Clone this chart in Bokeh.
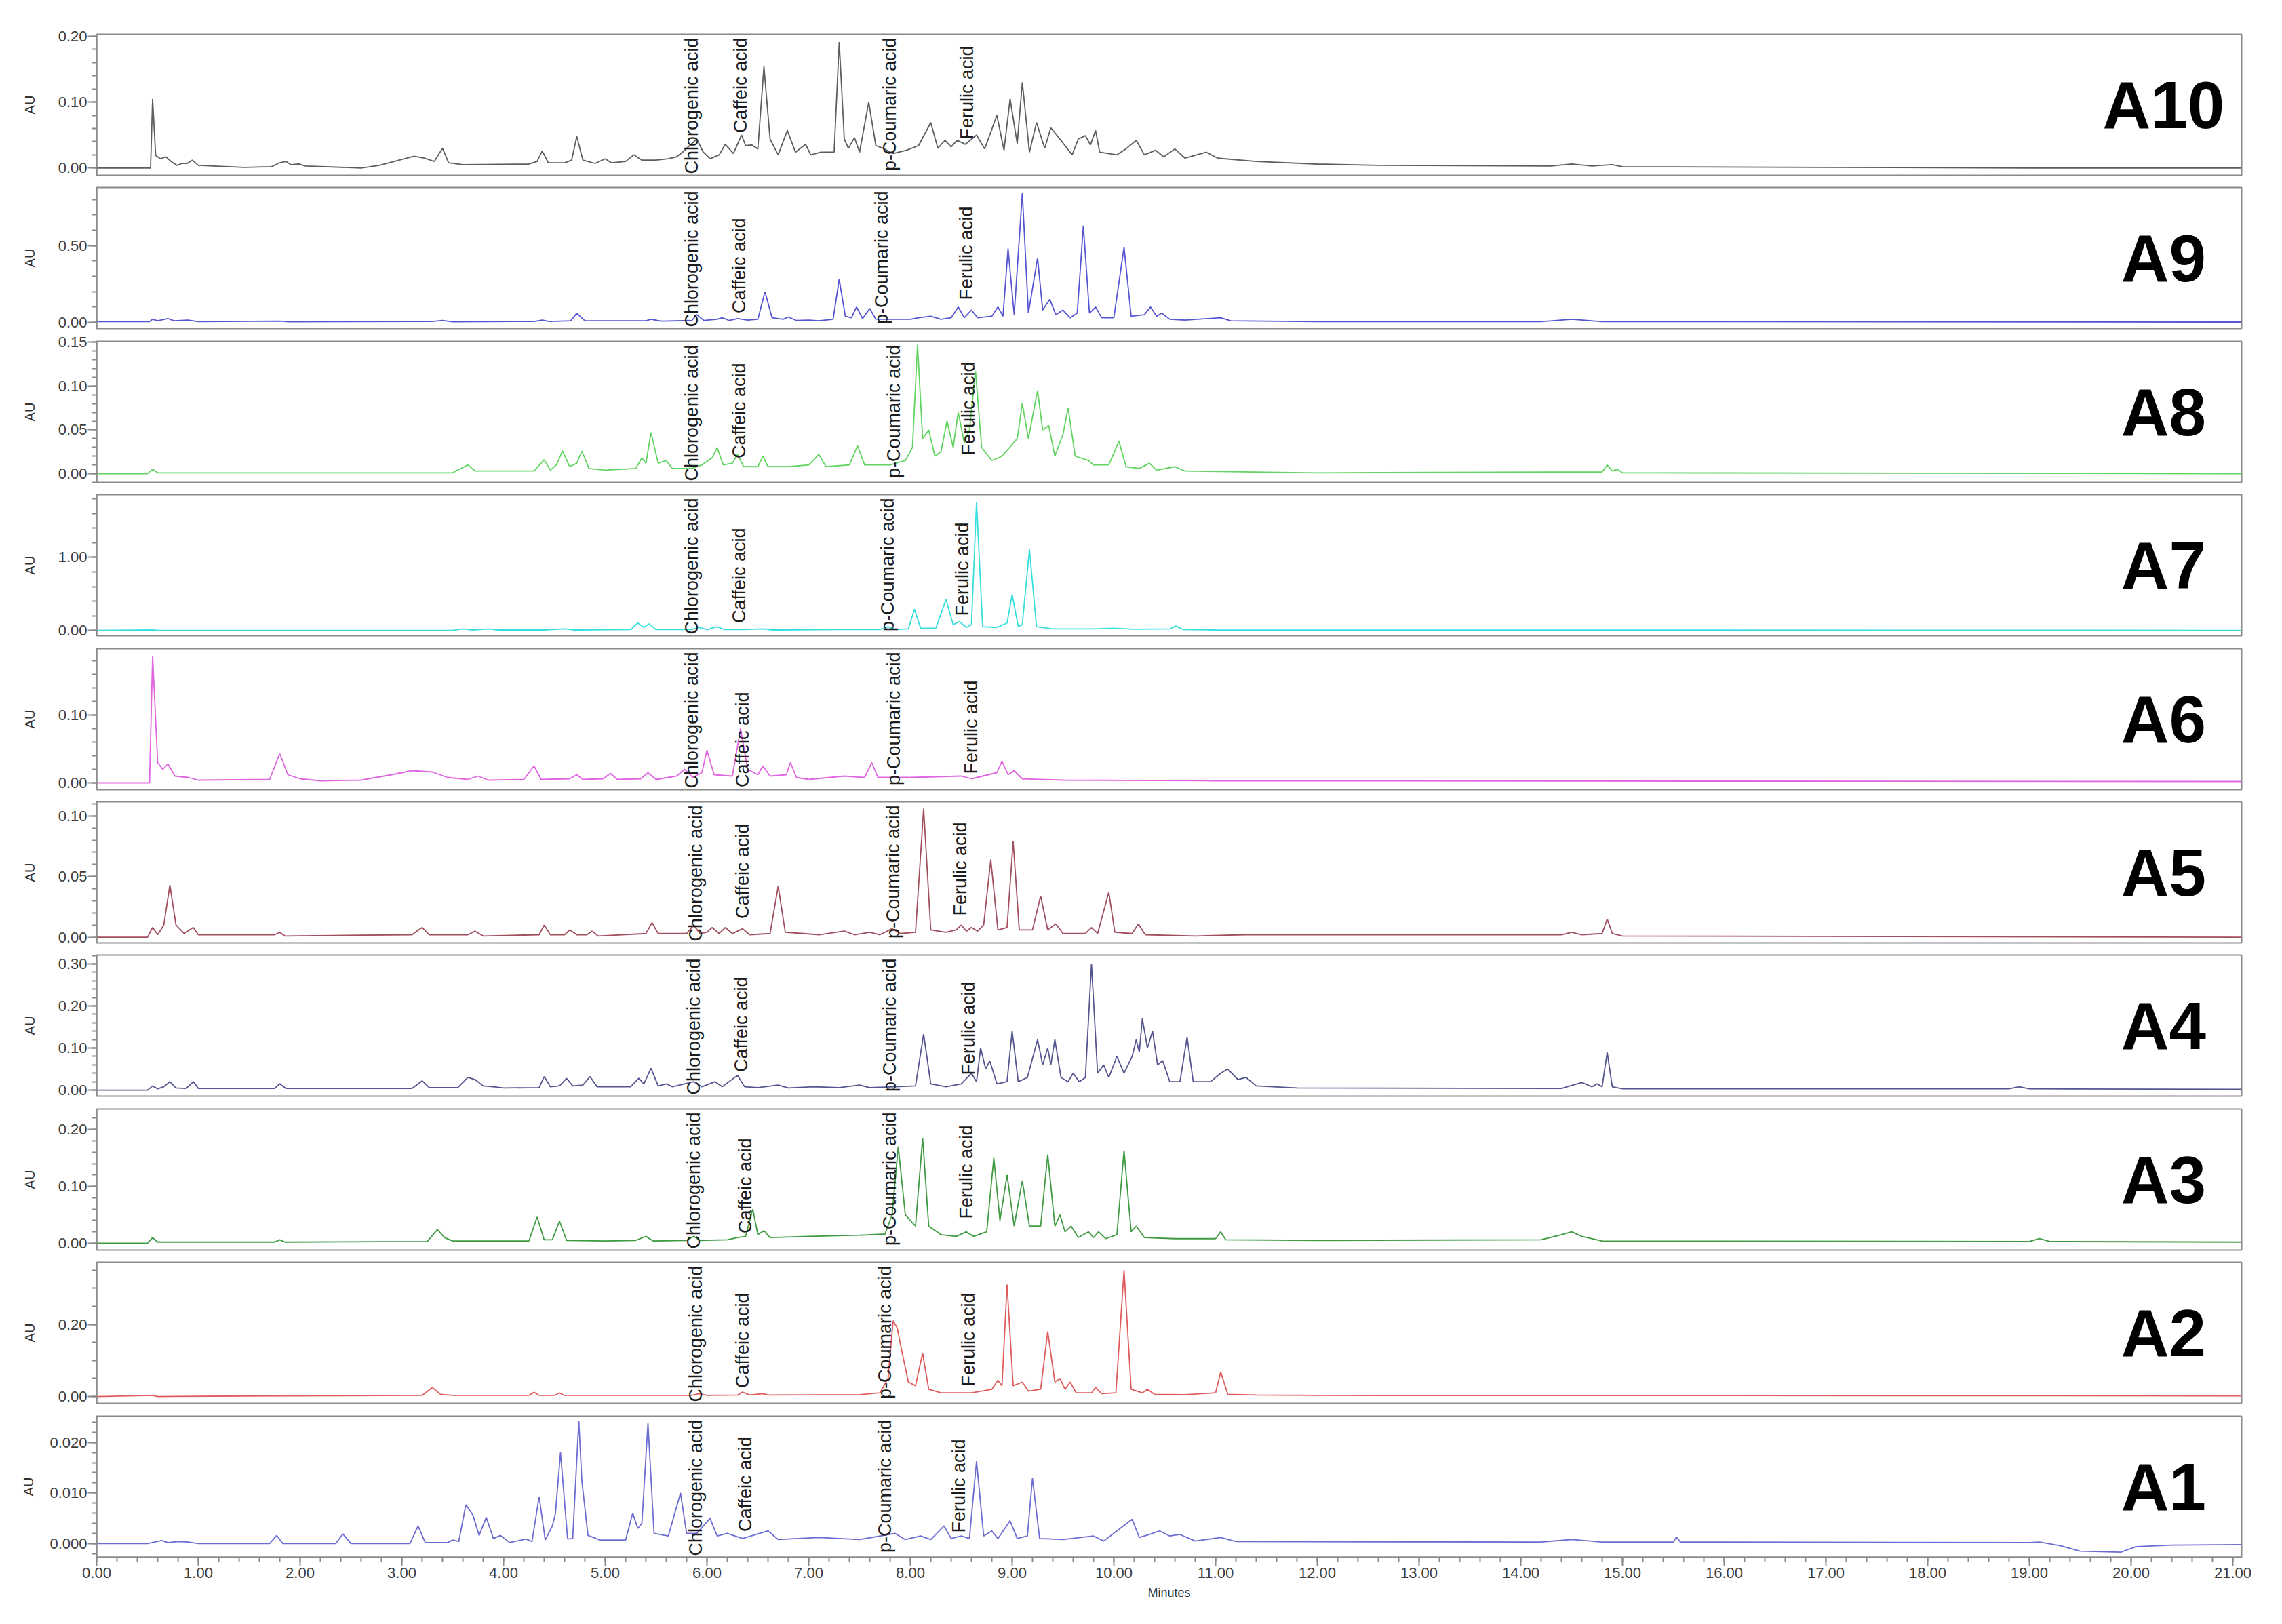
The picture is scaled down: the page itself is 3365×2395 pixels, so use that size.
import math
from bokeh.plotting import figure
from bokeh.layouts import column
from bokeh.models import FixedTicker, PrintfTickFormatter, Range1d
from bokeh.core.properties import value
from bokeh.embed import file_html
from bokeh.resources import INLINE

# ---------------- data ----------------
PANEL_NAMES = ["A10", "A9", "A8", "A7", "A6", "A5", "A4", "A3", "A2", "A1"]
COMPOUNDS = ["Chlorogenic acid", "Caffeic acid", "p-Coumaric acid", "Ferulic acid"]
X_TICKS = [float(i) for i in range(22)]

A10_t = [0.00, 0.53, 0.55, 0.58, 0.63, 0.68, 0.74, 0.79, 0.84, 0.89, 0.94, 1.00, 1.45, 1.72, 1.80, 1.86, 1.91, 1.99, 2.05, 2.60, 2.78, 2.90, 3.00, 3.12, 3.22, 3.32, 3.40, 3.46, 3.60, 4.25, 4.33, 4.38, 4.44, 4.60, 4.67, 4.72, 4.78, 4.90, 5.00, 5.06, 5.20, 5.28, 5.36, 5.50, 5.62, 5.70, 5.76, 5.90, 5.96, 6.03, 6.12, 6.18, 6.26, 6.34, 6.38, 6.44, 6.50, 6.56, 6.62, 6.70, 6.79, 6.87, 6.97, 7.02, 7.12, 7.25, 7.30, 7.35, 7.39, 7.45, 7.50, 7.59, 7.66, 7.73, 7.83, 7.96, 8.08, 8.20, 8.27, 8.34, 8.40, 8.46, 8.54, 8.65, 8.73, 8.85, 8.92, 8.98, 9.05, 9.10, 9.17, 9.24, 9.32, 9.38, 9.49, 9.59, 9.65, 9.72, 9.77, 9.82, 9.86, 10.03, 10.11, 10.22, 10.30, 10.41, 10.49, 10.60, 10.70, 10.91, 11.02, 11.40, 12.00, 12.60, 14.30, 14.50, 14.70, 14.90, 15.00, 17.00, 19.00, 21.087]
A10_v = [0.000, 0.000, 0.105, 0.019, 0.014, 0.017, 0.009, 0.004, 0.007, 0.007, 0.012, 0.004, 0.001, 0.002, 0.008, 0.010, 0.005, 0.006, 0.003, 0.000, 0.004, 0.009, 0.013, 0.018, 0.015, 0.010, 0.030, 0.008, 0.005, 0.006, 0.010, 0.026, 0.008, 0.008, 0.012, 0.048, 0.012, 0.007, 0.014, 0.008, 0.010, 0.020, 0.012, 0.012, 0.014, 0.017, 0.024, 0.044, 0.025, 0.014, 0.020, 0.036, 0.022, 0.050, 0.034, 0.035, 0.029, 0.154, 0.044, 0.020, 0.057, 0.024, 0.036, 0.020, 0.024, 0.024, 0.191, 0.044, 0.030, 0.046, 0.024, 0.100, 0.034, 0.030, 0.022, 0.027, 0.034, 0.069, 0.030, 0.042, 0.032, 0.042, 0.036, 0.050, 0.029, 0.080, 0.027, 0.105, 0.037, 0.130, 0.024, 0.069, 0.030, 0.061, 0.040, 0.020, 0.044, 0.049, 0.035, 0.057, 0.024, 0.020, 0.028, 0.042, 0.020, 0.027, 0.017, 0.029, 0.015, 0.024, 0.015, 0.010, 0.006, 0.004, 0.003, 0.006, 0.003, 0.005, 0.002, 0.001, 0.000, 0.000]

A9_t = [0.00, 0.52, 0.55, 0.60, 0.70, 0.76, 0.90, 1.00, 1.80, 1.90, 3.30, 3.40, 3.50, 4.30, 4.38, 4.45, 4.66, 4.72, 4.80, 5.40, 5.45, 5.55, 5.85, 5.90, 5.97, 6.10, 6.15, 6.22, 6.30, 6.40, 6.50, 6.57, 6.64, 6.75, 6.80, 6.88, 7.00, 7.10, 7.24, 7.30, 7.36, 7.42, 7.47, 7.53, 7.60, 7.66, 7.80, 8.00, 8.08, 8.20, 8.30, 8.40, 8.47, 8.53, 8.60, 8.66, 8.80, 8.86, 8.91, 8.96, 9.02, 9.10, 9.16, 9.25, 9.30, 9.37, 9.43, 9.50, 9.57, 9.64, 9.70, 9.76, 9.82, 9.88, 10.00, 10.10, 10.17, 10.30, 10.36, 10.42, 10.47, 10.55, 10.70, 11.05, 11.15, 12.00, 14.20, 14.50, 14.80, 21.087]
A9_v = [0.005, 0.005, 0.020, 0.010, 0.025, 0.010, 0.015, 0.005, 0.008, 0.004, 0.006, 0.012, 0.004, 0.006, 0.015, 0.006, 0.010, 0.060, 0.010, 0.010, 0.020, 0.008, 0.012, 0.050, 0.012, 0.020, 0.030, 0.012, 0.025, 0.015, 0.020, 0.200, 0.030, 0.020, 0.035, 0.012, 0.015, 0.010, 0.020, 0.280, 0.040, 0.030, 0.100, 0.025, 0.090, 0.020, 0.020, 0.020, 0.030, 0.040, 0.020, 0.030, 0.100, 0.030, 0.080, 0.030, 0.040, 0.100, 0.040, 0.480, 0.050, 0.840, 0.060, 0.420, 0.080, 0.150, 0.050, 0.080, 0.030, 0.060, 0.630, 0.060, 0.100, 0.030, 0.030, 0.490, 0.040, 0.050, 0.100, 0.040, 0.060, 0.020, 0.015, 0.030, 0.010, 0.005, 0.005, 0.020, 0.005, 0.002]

A8_t = [0.00, 0.50, 0.55, 0.60, 1.00, 3.50, 3.60, 3.65, 3.72, 4.30, 4.40, 4.46, 4.52, 4.58, 4.65, 4.72, 4.77, 4.84, 5.00, 5.30, 5.36, 5.40, 5.45, 5.52, 5.60, 5.66, 5.85, 5.95, 6.05, 6.10, 6.16, 6.25, 6.30, 6.36, 6.50, 6.55, 6.60, 6.80, 7.00, 7.10, 7.17, 7.40, 7.48, 7.55, 7.80, 7.95, 8.02, 8.07, 8.12, 8.18, 8.24, 8.30, 8.36, 8.42, 8.47, 8.53, 8.58, 8.64, 8.70, 8.80, 8.90, 9.05, 9.10, 9.16, 9.25, 9.30, 9.36, 9.42, 9.50, 9.55, 9.62, 9.75, 9.80, 9.95, 10.05, 10.12, 10.25, 10.35, 10.42, 10.60, 10.70, 12.00, 14.80, 14.85, 14.90, 14.95, 15.00, 21.087]
A8_v = [0.000, 0.000, 0.005, 0.001, 0.001, 0.001, 0.007, 0.010, 0.003, 0.003, 0.016, 0.004, 0.010, 0.026, 0.008, 0.012, 0.026, 0.006, 0.004, 0.006, 0.018, 0.012, 0.047, 0.012, 0.015, 0.006, 0.006, 0.010, 0.018, 0.030, 0.010, 0.012, 0.022, 0.008, 0.008, 0.020, 0.008, 0.008, 0.010, 0.022, 0.008, 0.010, 0.032, 0.010, 0.010, 0.015, 0.030, 0.147, 0.040, 0.050, 0.020, 0.025, 0.060, 0.030, 0.070, 0.035, 0.050, 0.117, 0.030, 0.015, 0.020, 0.040, 0.080, 0.040, 0.095, 0.050, 0.055, 0.020, 0.045, 0.075, 0.020, 0.015, 0.010, 0.010, 0.037, 0.008, 0.006, 0.012, 0.004, 0.008, 0.003, 0.001, 0.002, 0.010, 0.003, 0.005, 0.001, 0.000]

A7_t = [0.00, 0.55, 0.60, 3.50, 3.60, 3.70, 3.85, 3.95, 4.40, 4.60, 4.70, 5.25, 5.32, 5.38, 5.43, 5.50, 5.85, 5.92, 6.00, 6.10, 6.17, 6.35, 6.55, 6.65, 7.30, 7.50, 7.70, 7.78, 7.86, 7.98, 8.04, 8.10, 8.25, 8.35, 8.42, 8.48, 8.55, 8.60, 8.65, 8.71, 8.85, 8.95, 9.00, 9.06, 9.10, 9.17, 9.24, 9.40, 9.80, 10.00, 10.20, 10.55, 10.61, 10.68, 11.00, 21.087]
A7_v = [0.000, 0.005, 0.000, 0.000, 0.020, 0.005, 0.020, 0.005, 0.005, 0.020, 0.005, 0.010, 0.100, 0.040, 0.090, 0.010, 0.010, 0.040, 0.010, 0.050, 0.010, 0.010, 0.020, 0.005, 0.010, 0.010, 0.010, 0.050, 0.010, 0.020, 0.290, 0.030, 0.030, 0.420, 0.080, 0.120, 0.040, 0.080, 1.760, 0.050, 0.040, 0.100, 0.490, 0.050, 0.080, 1.110, 0.050, 0.020, 0.020, 0.030, 0.015, 0.020, 0.060, 0.010, 0.005, 0.000]

A6_t = [0.00, 0.52, 0.55, 0.60, 0.65, 0.70, 0.77, 0.90, 1.00, 1.70, 1.80, 1.88, 2.00, 2.20, 2.60, 2.90, 3.10, 3.30, 3.45, 3.65, 3.75, 3.85, 4.20, 4.30, 4.37, 4.65, 4.72, 4.78, 4.98, 5.05, 5.12, 5.35, 5.42, 5.50, 5.70, 5.78, 5.86, 5.95, 6.00, 6.07, 6.25, 6.33, 6.40, 6.50, 6.55, 6.62, 6.78, 6.82, 6.88, 7.00, 7.35, 7.55, 7.62, 7.68, 8.00, 8.50, 8.60, 8.85, 8.90, 8.96, 9.02, 9.10, 9.50, 11.00, 21.087]
A6_v = [0.000, 0.000, 0.187, 0.030, 0.020, 0.028, 0.010, 0.008, 0.004, 0.005, 0.043, 0.012, 0.006, 0.003, 0.004, 0.012, 0.018, 0.016, 0.008, 0.005, 0.010, 0.004, 0.005, 0.025, 0.005, 0.006, 0.012, 0.005, 0.006, 0.014, 0.005, 0.006, 0.015, 0.005, 0.010, 0.020, 0.008, 0.015, 0.048, 0.012, 0.010, 0.080, 0.020, 0.012, 0.025, 0.010, 0.012, 0.030, 0.008, 0.005, 0.010, 0.008, 0.030, 0.008, 0.008, 0.010, 0.006, 0.015, 0.032, 0.012, 0.018, 0.006, 0.004, 0.003, 0.002]

A5_t = [0.00, 0.50, 0.55, 0.60, 0.66, 0.72, 0.78, 0.86, 0.95, 1.00, 1.75, 1.80, 1.85, 3.10, 3.20, 3.27, 3.65, 3.72, 3.80, 4.35, 4.40, 4.46, 4.60, 4.65, 4.72, 4.82, 4.87, 4.93, 5.40, 5.46, 5.52, 5.80, 5.87, 5.93, 6.00, 6.05, 6.12, 6.18, 6.25, 6.35, 6.42, 6.62, 6.70, 6.77, 6.95, 7.10, 7.35, 7.45, 7.60, 7.70, 7.82, 7.90, 8.05, 8.13, 8.20, 8.35, 8.45, 8.50, 8.55, 8.60, 8.66, 8.72, 8.79, 8.86, 8.95, 9.01, 9.07, 9.20, 9.28, 9.35, 9.43, 9.50, 9.72, 9.78, 9.84, 9.95, 10.01, 10.18, 10.24, 10.31, 10.80, 11.30, 14.40, 14.50, 14.60, 14.80, 14.85, 14.90, 15.00, 21.087]
A5_v = [0.000, 0.000, 0.008, 0.002, 0.010, 0.043, 0.010, 0.003, 0.008, 0.002, 0.002, 0.004, 0.001, 0.002, 0.008, 0.002, 0.002, 0.005, 0.001, 0.002, 0.010, 0.002, 0.002, 0.006, 0.002, 0.002, 0.005, 0.001, 0.003, 0.012, 0.003, 0.003, 0.010, 0.003, 0.004, 0.008, 0.003, 0.008, 0.003, 0.007, 0.002, 0.003, 0.042, 0.004, 0.003, 0.002, 0.005, 0.002, 0.004, 0.002, 0.007, 0.003, 0.004, 0.106, 0.006, 0.004, 0.006, 0.010, 0.005, 0.008, 0.005, 0.010, 0.064, 0.006, 0.008, 0.079, 0.006, 0.006, 0.034, 0.006, 0.011, 0.003, 0.003, 0.008, 0.003, 0.037, 0.004, 0.003, 0.011, 0.002, 0.001, 0.002, 0.002, 0.004, 0.002, 0.003, 0.015, 0.003, 0.001, 0.000]

A4_t = [0.00, 0.50, 0.55, 0.60, 0.66, 0.72, 0.78, 0.88, 0.95, 1.00, 1.75, 1.80, 1.86, 3.10, 3.20, 3.27, 3.55, 3.65, 3.72, 3.80, 3.90, 4.00, 4.35, 4.40, 4.46, 4.55, 4.62, 4.68, 4.78, 4.85, 4.92, 5.25, 5.33, 5.38, 5.45, 5.52, 5.60, 5.66, 5.87, 5.95, 6.08, 6.15, 6.30, 6.37, 6.50, 6.70, 6.80, 7.05, 7.30, 7.50, 7.60, 7.85, 8.05, 8.13, 8.20, 8.35, 8.50, 8.60, 8.65, 8.69, 8.74, 8.78, 8.85, 8.95, 9.00, 9.06, 9.15, 9.25, 9.30, 9.35, 9.38, 9.42, 9.48, 9.55, 9.60, 9.66, 9.72, 9.78, 9.84, 9.90, 9.95, 10.03, 10.10, 10.18, 10.22, 10.25, 10.28, 10.33, 10.38, 10.43, 10.48, 10.55, 10.65, 10.72, 10.78, 10.95, 11.05, 11.12, 11.22, 11.30, 11.40, 11.80, 14.40, 14.60, 14.70, 14.75, 14.80, 14.85, 14.90, 15.00, 18.80, 18.90, 19.00, 21.087]
A4_v = [0.000, 0.000, 0.010, 0.003, 0.008, 0.020, 0.005, 0.004, 0.020, 0.004, 0.004, 0.015, 0.004, 0.004, 0.022, 0.006, 0.006, 0.030, 0.025, 0.010, 0.008, 0.005, 0.006, 0.032, 0.008, 0.010, 0.028, 0.010, 0.012, 0.032, 0.008, 0.008, 0.028, 0.015, 0.052, 0.010, 0.015, 0.008, 0.020, 0.008, 0.020, 0.008, 0.035, 0.008, 0.006, 0.012, 0.005, 0.008, 0.006, 0.012, 0.006, 0.008, 0.010, 0.133, 0.015, 0.008, 0.015, 0.040, 0.020, 0.100, 0.050, 0.070, 0.015, 0.020, 0.140, 0.020, 0.030, 0.120, 0.060, 0.100, 0.060, 0.120, 0.030, 0.020, 0.040, 0.020, 0.030, 0.300, 0.040, 0.060, 0.030, 0.080, 0.040, 0.080, 0.120, 0.090, 0.170, 0.100, 0.140, 0.060, 0.070, 0.020, 0.020, 0.126, 0.020, 0.020, 0.040, 0.050, 0.025, 0.030, 0.010, 0.005, 0.004, 0.018, 0.008, 0.015, 0.008, 0.090, 0.008, 0.003, 0.003, 0.008, 0.003, 0.002]

A3_t = [0.00, 0.50, 0.55, 0.60, 0.90, 1.75, 1.80, 1.85, 3.25, 3.35, 3.42, 3.50, 4.25, 4.33, 4.40, 4.48, 4.55, 4.62, 5.00, 5.30, 5.40, 5.47, 5.80, 5.87, 5.93, 6.20, 6.30, 6.38, 6.45, 6.50, 6.56, 6.62, 7.00, 7.50, 7.75, 7.82, 7.88, 7.95, 8.05, 8.12, 8.18, 8.30, 8.45, 8.55, 8.62, 8.75, 8.82, 8.88, 8.95, 9.02, 9.10, 9.17, 9.28, 9.35, 9.42, 9.47, 9.52, 9.58, 9.65, 9.75, 9.80, 9.85, 9.92, 10.03, 10.10, 10.17, 10.22, 10.30, 10.60, 11.00, 11.05, 11.10, 12.00, 14.20, 14.40, 14.50, 14.60, 14.80, 19.00, 19.10, 19.20, 21.087]
A3_v = [0.000, 0.000, 0.010, 0.002, 0.002, 0.002, 0.006, 0.002, 0.003, 0.024, 0.010, 0.004, 0.004, 0.046, 0.006, 0.006, 0.039, 0.005, 0.004, 0.005, 0.012, 0.004, 0.005, 0.012, 0.005, 0.006, 0.010, 0.012, 0.060, 0.015, 0.022, 0.010, 0.012, 0.014, 0.016, 0.050, 0.170, 0.050, 0.030, 0.185, 0.030, 0.015, 0.012, 0.020, 0.012, 0.020, 0.150, 0.040, 0.120, 0.030, 0.110, 0.030, 0.030, 0.156, 0.030, 0.050, 0.020, 0.030, 0.010, 0.020, 0.010, 0.020, 0.008, 0.015, 0.163, 0.020, 0.030, 0.010, 0.008, 0.008, 0.020, 0.006, 0.005, 0.006, 0.015, 0.020, 0.012, 0.004, 0.003, 0.008, 0.003, 0.002]

A2_t = [0.00, 0.55, 0.60, 1.80, 3.20, 3.30, 3.38, 3.50, 4.25, 4.30, 4.35, 4.50, 4.55, 4.60, 5.85, 5.92, 6.00, 6.30, 6.35, 6.42, 6.55, 6.60, 7.50, 7.70, 7.78, 7.83, 7.87, 7.92, 7.98, 8.05, 8.12, 8.18, 8.30, 8.60, 8.70, 8.80, 8.86, 8.90, 8.95, 9.01, 9.10, 9.16, 9.28, 9.35, 9.42, 9.47, 9.52, 9.57, 9.63, 9.78, 9.82, 9.88, 10.02, 10.10, 10.17, 10.28, 10.33, 10.40, 10.70, 11.00, 11.05, 11.12, 11.40, 12.00, 21.087]
A2_v = [0.000, 0.003, 0.000, 0.002, 0.003, 0.025, 0.006, 0.003, 0.003, 0.012, 0.003, 0.003, 0.010, 0.003, 0.003, 0.008, 0.003, 0.004, 0.012, 0.004, 0.008, 0.004, 0.005, 0.010, 0.050, 0.210, 0.190, 0.120, 0.040, 0.030, 0.120, 0.020, 0.010, 0.010, 0.015, 0.020, 0.045, 0.030, 0.310, 0.030, 0.040, 0.015, 0.020, 0.180, 0.040, 0.050, 0.020, 0.040, 0.010, 0.010, 0.025, 0.008, 0.010, 0.350, 0.020, 0.010, 0.020, 0.006, 0.005, 0.010, 0.068, 0.006, 0.004, 0.003, 0.002]

A1_t = [0.00, 0.50, 0.64, 0.70, 0.80, 0.90, 1.00, 1.70, 1.77, 1.83, 2.35, 2.42, 2.50, 3.08, 3.16, 3.23, 3.45, 3.50, 3.56, 3.63, 3.70, 3.76, 3.83, 3.90, 3.97, 4.06, 4.22, 4.28, 4.35, 4.41, 4.48, 4.51, 4.56, 4.63, 4.68, 4.74, 4.77, 4.83, 4.95, 5.20, 5.27, 5.32, 5.36, 5.42, 5.48, 5.62, 5.74, 5.80, 5.90, 6.03, 6.10, 6.20, 6.35, 6.60, 6.70, 7.10, 7.50, 7.85, 7.95, 8.10, 8.20, 8.33, 8.40, 8.50, 8.58, 8.65, 8.72, 8.80, 8.86, 8.98, 9.05, 9.15, 9.20, 9.27, 9.50, 9.80, 9.90, 10.18, 10.25, 10.35, 10.45, 10.55, 10.65, 10.80, 11.05, 11.20, 14.20, 14.50, 14.80, 15.50, 15.53, 15.57, 19.00, 19.10, 19.30, 19.50, 19.90, 20.05, 20.40, 21.087]
A1_v = [0.0000, 0.0000, 0.0006, 0.0002, 0.0004, 0.0003, 0.0000, 0.0000, 0.0016, 0.0000, 0.0000, 0.0019, 0.0000, 0.0000, 0.0035, 0.0002, 0.0002, 0.0007, 0.0004, 0.0077, 0.0056, 0.0016, 0.0052, 0.0010, 0.0016, 0.0002, 0.0009, 0.0004, 0.0093, 0.0007, 0.0035, 0.0059, 0.0180, 0.0009, 0.0010, 0.0243, 0.0124, 0.0016, 0.0007, 0.0007, 0.0060, 0.0030, 0.0040, 0.0238, 0.0020, 0.0015, 0.0100, 0.0020, 0.0020, 0.0050, 0.0015, 0.0020, 0.0010, 0.0025, 0.0008, 0.0012, 0.0008, 0.0020, 0.0008, 0.0015, 0.0008, 0.0035, 0.0010, 0.0015, 0.0010, 0.0163, 0.0015, 0.0025, 0.0010, 0.0045, 0.0010, 0.0015, 0.0129, 0.0010, 0.0008, 0.0015, 0.0005, 0.0048, 0.0012, 0.0018, 0.0025, 0.0015, 0.0018, 0.0005, 0.0012, 0.0004, 0.0003, 0.0008, 0.0003, 0.0003, 0.0013, 0.0003, 0.0002, 0.0003, -0.0004, -0.0015, -0.0017, -0.0006, -0.0003, -0.0002]

# y axis: ranges, major ticks, minor step
Y_RANGE = {"A10": (-0.011, 0.203), "A9": (-0.040, 0.878), "A8": (-0.010, 0.151),
           "A7": (-0.074, 1.86), "A6": (-0.010, 0.198), "A5": (-0.0047, 0.1116),
           "A4": (-0.0144, 0.321), "A3": (-0.012, 0.236), "A2": (-0.0187, 0.372),
           "A1": (-0.0027, 0.0252)}
Y_MAJOR = {"A10": [0.0, 0.10, 0.20], "A9": [0.0, 0.50], "A8": [0.0, 0.05, 0.10, 0.15],
           "A7": [0.0, 1.00], "A6": [0.0, 0.10], "A5": [0.0, 0.05, 0.10],
           "A4": [0.0, 0.10, 0.20, 0.30], "A3": [0.0, 0.10, 0.20], "A2": [0.0, 0.20],
           "A1": [0.0, 0.010, 0.020]}
Y_MINOR_STEP = {"A10": 0.02, "A9": 0.1, "A8": 0.01, "A7": 0.2, "A6": 0.02, "A5": 0.01,
                "A4": 0.02, "A3": 0.02, "A2": 0.05, "A1": 0.002}

COLORS = {"A10": "#5e5e5e", "A9": "#5656d2", "A8": "#62d462", "A7": "#36dede",
          "A6": "#e064e0", "A5": "#a04f5e", "A4": "#55558f", "A3": "#3f9a42",
          "A2": "#e05c5c", "A1": "#6c6cd2"}

# compound annotation x (minutes) per panel
LABEL_X = {"A10": [5.85, 6.33, 7.80, 8.56], "A9": [5.85, 6.32, 7.72, 8.55],
           "A8": [5.85, 6.32, 7.84, 8.57], "A7": [5.85, 6.32, 7.78, 8.51],
           "A6": [5.85, 6.35, 7.84, 8.60], "A5": [5.89, 6.35, 7.83, 8.49],
           "A4": [5.87, 6.34, 7.80, 8.57], "A3": [5.87, 6.38, 7.80, 8.55],
           "A2": [5.89, 6.35, 7.75, 8.57], "A1": [5.89, 6.38, 7.75, 8.48]}
# distance (px) from the frame top to the top end of each annotation
LABEL_TOP = {"A10": [5, 5, 5, 17], "A9": [5, 45, 5, 28], "A8": [5, 32, 5, 30],
             "A7": [5, 49, 5, 41], "A6": [5, 64, 5, 47], "A5": [5, 32, 5, 30],
             "A4": [5, 32, 5, 39], "A3": [5, 43, 5, 24], "A2": [5, 45, 5, 45],
             "A1": [5, 30, 5, 34]}

SERIES = {"A10": (A10_t, A10_v), "A9": (A9_t, A9_v), "A8": (A8_t, A8_v),
          "A7": (A7_t, A7_v), "A6": (A6_t, A6_v), "A5": (A5_t, A5_v),
          "A4": (A4_t, A4_v), "A3": (A3_t, A3_v), "A2": (A2_t, A2_v),
          "A1": (A1_t, A1_v)}

# ---------------- layout ----------------
X_MAX = 21.087
FRAME_W = 3163
FRAME_H = 208
PITCH = 226.4      # distance between panel tops (px)
TOP0 = 50          # top of the first frame (px)
FONT = "Liberation Sans"
FRAME_COLOR = "#8a8a8a"
TICK_TEXT = "#3c3c3c"

x_minor = [round(i * 0.2, 2) for i in range(0, 106)]


def style_axis(ax):
    ax.major_label_text_font = FONT
    ax.major_label_text_font_size = "22px"
    ax.major_label_text_color = TICK_TEXT
    ax.major_tick_out = 13
    ax.major_tick_in = 0
    ax.minor_tick_out = 7
    ax.minor_tick_in = 0
    ax.axis_line_color = FRAME_COLOR
    ax.axis_line_width = 2
    ax.major_tick_line_color = FRAME_COLOR
    ax.minor_tick_line_color = FRAME_COLOR
    ax.major_tick_line_width = 2
    ax.minor_tick_line_width = 2
    ax.axis_label_text_font = FONT
    ax.axis_label_text_font_style = "normal"
    ax.axis_label_text_color = "#333333"


figs = []
n = len(PANEL_NAMES)
prev_bottom = 0
for i, name in enumerate(PANEL_NAMES):
    first = i == 0
    last = i == n - 1
    top = TOP0 + round(PITCH * i)
    border_top = top - prev_bottom
    border_bottom = 80 if last else 9
    prev_bottom = top + FRAME_H + border_bottom
    ymin, ymax = Y_RANGE[name]
    p = figure(frame_width=FRAME_W, frame_height=FRAME_H,
               x_range=Range1d(0, X_MAX), y_range=Range1d(ymin, ymax),
               output_backend="svg", toolbar_location=None,
               min_border_left=142, min_border_right=52,
               min_border_top=border_top, min_border_bottom=border_bottom,
               background_fill_color="white", border_fill_color="white")
    p.xgrid.visible = False
    p.ygrid.visible = False
    p.outline_line_color = FRAME_COLOR
    p.outline_line_width = 2

    t, v = SERIES[name]
    p.line(t, v, line_color=COLORS[name], line_width=1.8)

    # y axis
    step = Y_MINOR_STEP[name]
    k0 = math.ceil(ymin / step - 1e-9)
    k1 = math.floor(ymax / step + 1e-9)
    y_minor = [round(k * step, 6) for k in range(k0, k1 + 1)]
    yax = p.yaxis[0]
    yax.ticker = FixedTicker(ticks=Y_MAJOR[name], minor_ticks=y_minor)
    yax.formatter = PrintfTickFormatter(format="%.3f" if name == "A1" else "%.2f")
    style_axis(yax)
    yax.axis_label = "AU"
    yax.axis_label_text_font_size = "20px"
    yax.axis_label_standoff = 17 if name == "A1" else 28
    yax.major_label_standoff = 1

    xax = p.xaxis[0]
    if last:
        xax.ticker = FixedTicker(ticks=X_TICKS, minor_ticks=x_minor)
        xax.formatter = PrintfTickFormatter(format="%.2f")
        style_axis(xax)
        xax.axis_label = "Minutes"
        xax.axis_label_text_font_size = "18px"
        xax.axis_label_standoff = 9
        xax.major_label_standoff = 2
    else:
        xax.visible = False

    per_px = (ymax - ymin) / FRAME_H
    # compound annotations (rotated, top end anchored)
    cy = [ymax - ctop * per_px for ctop in LABEL_TOP[name]]
    p.text(x=LABEL_X[name], y=cy, text=COMPOUNDS, angle=math.pi / 2,
           text_align="right", text_baseline="middle",
           text_font=value(FONT), text_font_size="27px", text_color="#1c1c1c")

    # panel name (98px: a bold "100px" font string breaks the svg font parser)
    p.text(x=[20.32], y=[ymin + 0.5 * (ymax - ymin)], text=[name],
           text_align="center", text_baseline="middle",
           text_font=value(FONT), text_font_style="bold",
           text_font_size="98px", text_color="black")
    figs.append(p)

layout = column(*figs, spacing=0)
open("out.html", "w").write(file_html(layout, INLINE))
